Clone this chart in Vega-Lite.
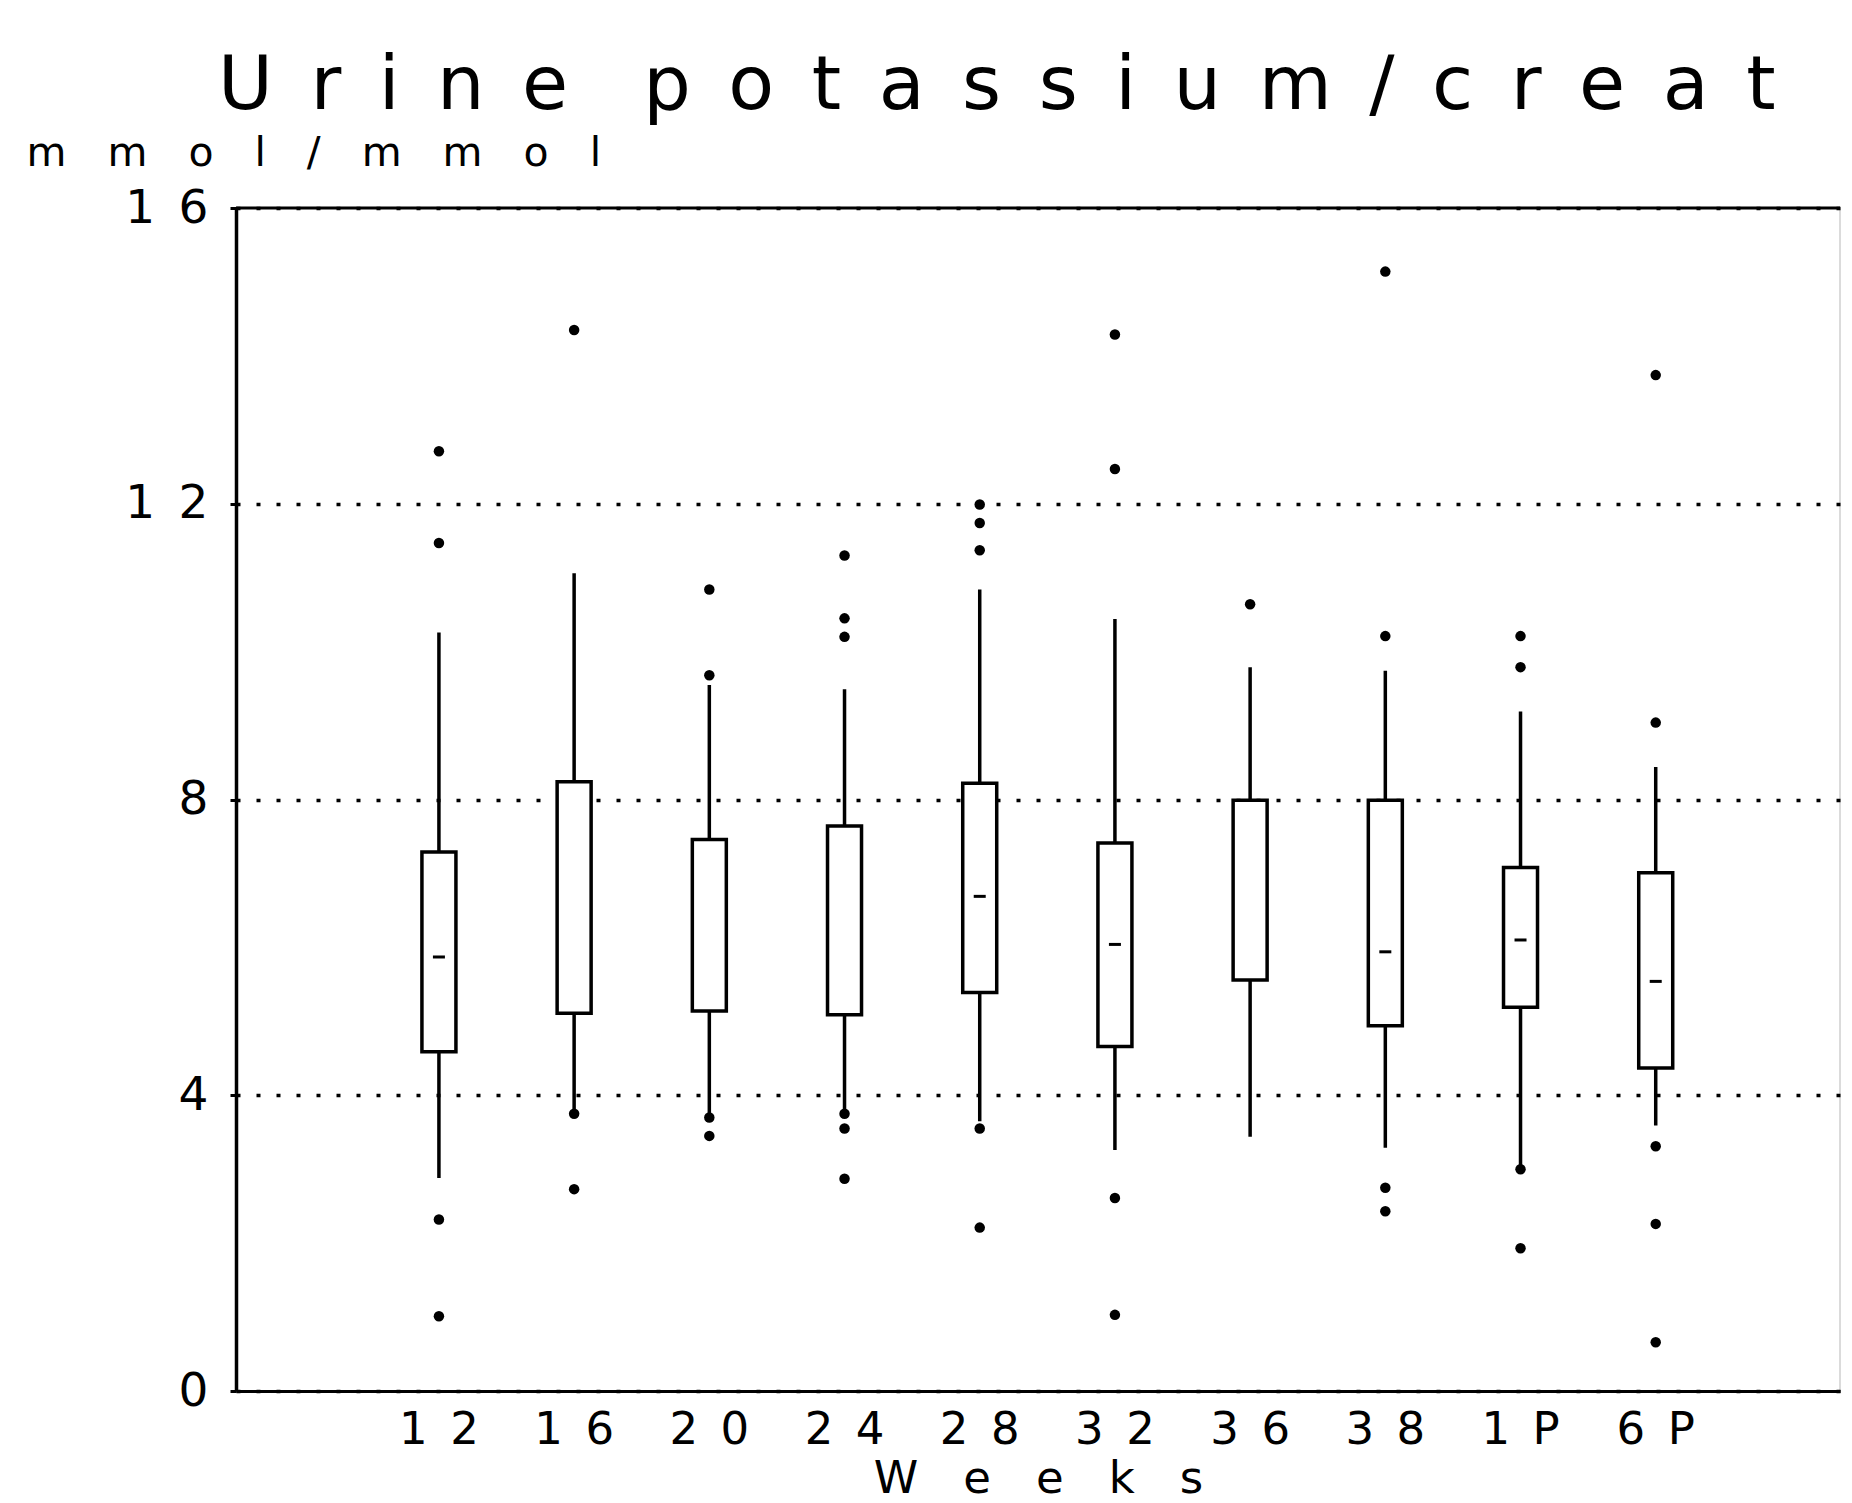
{
  "$schema": "https://vega.github.io/schema/vega-lite/v6.json",
  "width": 1604,
  "height": 1183,
  "autosize": {"type": "none"},
  "padding": {"left": 236, "top": 208, "right": 12, "bottom": 112},
  "background": "white",
  "title": {
    "text": "U\u2002r\u2002i\u2002n\u2002e\u2002\u2002p\u2002o\u2002t\u2002a\u2002s\u2002s\u2002i\u2002u\u2002m\u2002/\u2002c\u2002r\u2002e\u2002a\u2002t",
    "anchor": "start",
    "frame": "group",
    "font": "DejaVu Sans",
    "fontSize": 75,
    "fontWeight": "normal",
    "color": "black",
    "baseline": "alphabetic",
    "dx": -18,
    "dy": 72,
    "offset": 20
  },
  "datasets": {
    "boxes": [
      {"week": "12", "whisker_low": 2.88, "q1": 4.59, "median": 5.87, "q3": 7.29, "whisker_high": 10.26},
      {"week": "16", "whisker_low": 3.7, "q1": 5.11, "median": null, "q3": 8.24, "whisker_high": 11.06},
      {"week": "20", "whisker_low": 3.75, "q1": 5.14, "median": null, "q3": 7.46, "whisker_high": 9.55},
      {"week": "24", "whisker_low": 3.8, "q1": 5.09, "median": null, "q3": 7.64, "whisker_high": 9.49},
      {"week": "28", "whisker_low": 3.65, "q1": 5.39, "median": 6.69, "q3": 8.22, "whisker_high": 10.84},
      {"week": "32", "whisker_low": 3.26, "q1": 4.66, "median": 6.04, "q3": 7.41, "whisker_high": 10.44},
      {"week": "36", "whisker_low": 3.44, "q1": 5.56, "median": null, "q3": 7.99, "whisker_high": 9.79},
      {"week": "38", "whisker_low": 3.29, "q1": 4.94, "median": 5.94, "q3": 7.99, "whisker_high": 9.74},
      {"week": "1P", "whisker_low": 3.01, "q1": 5.19, "median": 6.1, "q3": 7.08, "whisker_high": 9.19},
      {"week": "6P", "whisker_low": 3.59, "q1": 4.37, "median": 5.54, "q3": 7.01, "whisker_high": 8.44}
    ],
    "outliers": [
      {"week": "12", "value": 12.71}, {"week": "12", "value": 11.47}, {"week": "12", "value": 2.32}, {"week": "12", "value": 1.01},
      {"week": "16", "value": 14.35}, {"week": "16", "value": 3.75}, {"week": "16", "value": 2.73},
      {"week": "20", "value": 10.84}, {"week": "20", "value": 9.68}, {"week": "20", "value": 3.7}, {"week": "20", "value": 3.45},
      {"week": "24", "value": 11.3}, {"week": "24", "value": 10.45}, {"week": "24", "value": 10.2}, {"week": "24", "value": 3.75}, {"week": "24", "value": 3.55}, {"week": "24", "value": 2.87},
      {"week": "28", "value": 11.99}, {"week": "28", "value": 11.74}, {"week": "28", "value": 11.37}, {"week": "28", "value": 3.55}, {"week": "28", "value": 2.21},
      {"week": "32", "value": 14.29}, {"week": "32", "value": 12.47}, {"week": "32", "value": 2.61}, {"week": "32", "value": 1.03},
      {"week": "36", "value": 10.64},
      {"week": "38", "value": 15.14}, {"week": "38", "value": 10.21}, {"week": "38", "value": 2.75}, {"week": "38", "value": 2.43},
      {"week": "1P", "value": 10.21}, {"week": "1P", "value": 9.79}, {"week": "1P", "value": 3.0}, {"week": "1P", "value": 1.93},
      {"week": "6P", "value": 13.74}, {"week": "6P", "value": 9.04}, {"week": "6P", "value": 3.31}, {"week": "6P", "value": 2.26}, {"week": "6P", "value": 0.66}
    ]
  },
  "config": {
    "font": "DejaVu Sans",
    "view": {"stroke": "#d0d0d0", "strokeWidth": 1.5},
    "axisY": {
      "grid": true,
      "gridDash": [4, 16],
      "gridColor": "black",
      "gridWidth": 3.5,
      "gridOpacity": 1,
      "domainColor": "black",
      "domainWidth": 3.5,
      "tickColor": "black",
      "tickSize": 6,
      "tickWidth": 3,
      "labelFont": "DejaVu Sans",
      "labelFontSize": 47,
      "labelColor": "black",
      "labelPadding": 22,
      "titleAngle": 0,
      "titleAlign": "left",
      "titleBaseline": "alphabetic",
      "titleX": -210,
      "titleY": -43,
      "titleFont": "DejaVu Sans",
      "titleFontSize": 41,
      "titleFontWeight": "normal",
      "titleColor": "black"
    },
    "axisX": {
      "grid": false,
      "domainColor": "black",
      "domainWidth": 3,
      "ticks": false,
      "labelAngle": 0,
      "labelFont": "DejaVu Sans",
      "labelFontSize": 45,
      "labelColor": "black",
      "labelPadding": 16,
      "titleFont": "DejaVu Sans",
      "titleFontSize": 45,
      "titleFontWeight": "normal",
      "titleColor": "black",
      "titlePadding": 4
    }
  },
  "layer": [
    {
      "data": {"name": "boxes"},
      "mark": {"type": "rule", "color": "black", "strokeWidth": 3.5},
      "encoding": {
        "x": {"field": "week", "type": "nominal", "title": "W\u2003e\u2003e\u2003k\u2003s",
              "scale": {"domain": ["12", "16", "20", "24", "28", "32", "36", "38", "1P", "6P"], "paddingInner": 0, "paddingOuter": 0.932, "align": 0.537},
              "axis": {"labelExpr": "join(split(datum.label, ''), '\u2002')"}},
        "y": {"field": "whisker_low", "type": "quantitative", "title": "m\u2003m\u2003o\u2003l\u2003/\u2003m\u2003m\u2003o\u2003l",
              "scale": {"domain": [0, 16], "nice": false, "zero": true},
              "axis": {"values": [0, 4, 8, 12, 16], "format": "d", "labelExpr": "join(split(datum.label, ''), '\u2002')"}},
        "y2": {"field": "whisker_high"}
      }
    },
    {
      "data": {"name": "boxes"},
      "mark": {"type": "bar", "width": 34, "fill": "white", "stroke": "black", "strokeWidth": 3.5},
      "encoding": {
        "x": {"field": "week", "type": "nominal", "title": "W\u2003e\u2003e\u2003k\u2003s"},
        "y": {"field": "q1", "type": "quantitative", "title": "m\u2003m\u2003o\u2003l\u2003/\u2003m\u2003m\u2003o\u2003l"},
        "y2": {"field": "q3"}
      }
    },
    {
      "data": {"name": "boxes"},
      "mark": {"type": "tick", "color": "black", "size": 12, "thickness": 3, "opacity": 1},
      "encoding": {
        "x": {"field": "week", "type": "nominal", "title": "W\u2003e\u2003e\u2003k\u2003s"},
        "y": {"field": "median", "type": "quantitative", "title": "m\u2003m\u2003o\u2003l\u2003/\u2003m\u2003m\u2003o\u2003l"}
      }
    },
    {
      "data": {"name": "outliers"},
      "mark": {"type": "point", "filled": true, "color": "black", "size": 110, "opacity": 1},
      "encoding": {
        "x": {"field": "week", "type": "nominal", "title": "W\u2003e\u2003e\u2003k\u2003s"},
        "y": {"field": "value", "type": "quantitative", "title": "m\u2003m\u2003o\u2003l\u2003/\u2003m\u2003m\u2003o\u2003l"}
      }
    },
    {
      "data": {"values": [{}]},
      "mark": {"type": "rule", "color": "black", "strokeWidth": 3},
      "encoding": {"y": {"datum": 16}}
    }
  ]
}
